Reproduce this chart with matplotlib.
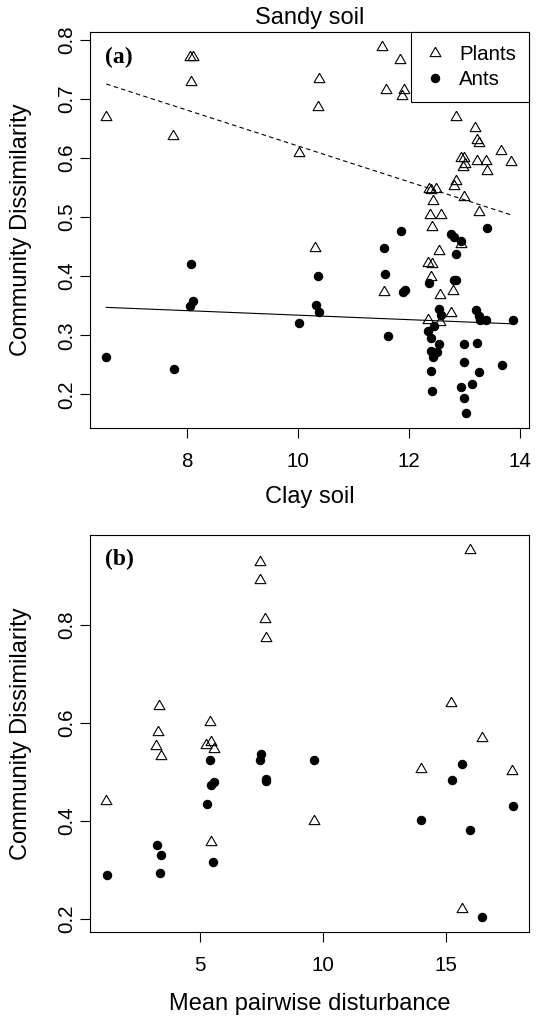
import matplotlib
matplotlib.use("Agg")
import matplotlib.pyplot as plt
import numpy as np

plt.rcParams['font.family'] = ['Liberation Sans', 'DejaVu Sans']

# Panel (a): dissimilarity vs clay soil
a_plants_x = [6.54, 7.75, 8.05, 8.10, 8.06, 10.02,
              11.52, 11.84, 10.38, 11.59, 11.91, 11.88, 10.35, 12.84, 13.19, 13.23,
              13.26, 13.66, 13.84, 12.94, 13.00, 12.98, 13.01, 13.23, 13.38, 13.40,
              12.36, 12.40, 12.49, 12.84, 12.81, 12.99, 12.43, 13.27, 12.37, 12.57,
              12.42, 10.31, 12.54, 12.94, 12.34, 12.42, 12.39, 11.55, 12.55, 12.79,
              12.75, 12.34, 12.55]
a_plants_y = [0.669, 0.637, 0.770, 0.770, 0.729, 0.609,
              0.788, 0.765, 0.733, 0.715, 0.714, 0.704, 0.686, 0.669, 0.650, 0.631,
              0.625, 0.612, 0.593, 0.599, 0.599, 0.585, 0.589, 0.594, 0.595, 0.578,
              0.548, 0.545, 0.548, 0.561, 0.552, 0.533, 0.527, 0.508, 0.503, 0.503,
              0.483, 0.447, 0.442, 0.455, 0.422, 0.421, 0.399, 0.374, 0.368, 0.375,
              0.337, 0.325, 0.322]
a_ants_x = [8.07, 8.10, 8.05, 6.54, 7.76,
            11.85, 12.75, 12.81, 12.94, 13.40,
            11.54, 12.84, 10.36, 11.57, 12.36, 12.81, 12.84, 11.90, 11.93, 10.32,
            10.38, 10.02, 12.54, 12.57, 13.20, 13.26, 13.28, 13.39, 13.87, 12.45,
            12.34, 12.39, 11.62, 12.54, 12.99, 13.23, 12.39, 12.51, 12.43, 13.00,
            13.67, 12.40, 13.27, 13.14, 12.94, 12.42, 12.99, 13.03]
a_ants_y = [0.420, 0.358, 0.350, 0.264, 0.243,
            0.477, 0.471, 0.467, 0.460, 0.482,
            0.448, 0.438, 0.400, 0.403, 0.388, 0.393, 0.394, 0.374, 0.376, 0.352,
            0.340, 0.320, 0.344, 0.334, 0.342, 0.333, 0.326, 0.326, 0.326, 0.315,
            0.308, 0.295, 0.298, 0.285, 0.285, 0.287, 0.273, 0.271, 0.263, 0.254,
            0.249, 0.240, 0.238, 0.218, 0.212, 0.206, 0.194, 0.168]
# fitted lines (intercept, slope)
plants_fit = (0.923, -0.0303)
ants_fit = (0.372, -0.0038)

# Panel (b): dissimilarity vs mean pairwise disturbance
b_plants_x = [7.46, 7.43, 7.64, 7.69, 3.35, 3.29, 3.22, 3.42, 5.41, 5.23, 5.45,
              5.58, 16.01, 15.23, 16.46, 14.01, 17.70, 9.63, 15.65, 1.19, 5.47]
b_plants_y = [0.929, 0.892, 0.812, 0.773, 0.634, 0.582, 0.552, 0.533, 0.603, 0.554,
              0.561, 0.546, 0.954, 0.641, 0.569, 0.506, 0.501, 0.400, 0.219, 0.440, 0.356]
b_ants_x = [5.41, 7.50, 7.46, 9.63, 15.67, 15.24, 17.73, 14.00, 16.01, 16.48,
            5.47, 5.58, 7.68, 7.70, 5.27, 3.24, 3.40, 5.52, 3.36, 1.22]
b_ants_y = [0.524, 0.537, 0.524, 0.525, 0.516, 0.483, 0.430, 0.401, 0.381, 0.203,
            0.474, 0.479, 0.485, 0.481, 0.435, 0.350, 0.331, 0.316, 0.293, 0.290]

# equilateral triangle like R's pch 2
tri = [(0, 1.0), (-0.866, -0.5), (0.866, -0.5), (0, 1.0)]

fig = plt.figure(figsize=(5.38, 10.19), dpi=100)
W, H = 538, 1019
ax1 = fig.add_axes([90 / W, 1 - 428 / H, 439 / W, 396 / H])
ax2 = fig.add_axes([90 / W, 1 - 932 / H, 439 / W, 397 / H])

tick_fs = 14.8
label_fs = 17


def style(ax, xticks, yticks):
    ax.margins(0.04)
    ax.set_xticks(xticks)
    ax.set_yticks(yticks)
    for s in ax.spines.values():
        s.set_linewidth(0.8)
    ax.tick_params(direction='out', length=7, width=0.8, labelsize=tick_fs)
    ax.tick_params(axis='x', pad=10)
    ax.tick_params(axis='y', pad=3)
    for lab in ax.get_yticklabels():
        lab.set_rotation(90)
        lab.set_va('center')


def draw(ax, px, py, ax_x, ay):
    pl, = ax.plot(px, py, linestyle='none', marker=tri, markersize=9,
                  markerfacecolor='none', markeredgecolor='black', markeredgewidth=0.8)
    an, = ax.plot(ax_x, ay, linestyle='none', marker='o', markersize=5.8,
                  color='black')
    return pl, an


pl, an = draw(ax1, a_plants_x, a_plants_y, a_ants_x, a_ants_y)
xs = np.array([min(min(a_plants_x), min(a_ants_x)), max(max(a_plants_x), max(a_ants_x))])
ax1.plot(xs, plants_fit[0] + plants_fit[1] * xs, color='black', linestyle=(0, (4, 3)), linewidth=0.8)
ax1.plot(xs, ants_fit[0] + ants_fit[1] * xs, color='black', linewidth=0.8)
style(ax1, [8, 10, 12, 14], [0.2, 0.3, 0.4, 0.5, 0.6, 0.7, 0.8])
ax1.set_title('Sandy soil', fontsize=label_fs, pad=5.5)
ax1.set_xlabel('Clay soil', fontsize=label_fs, va='center')
ax1.xaxis.set_label_coords(0.5, -0.173)
ax1.set_ylabel('Community Dissimilarity', fontsize=label_fs, va='center')
ax1.yaxis.set_label_coords(-0.157, 0.5)
ax1.text(0.034, 0.962, '(a)', transform=ax1.transAxes, fontsize=17,
         family='Liberation Serif', weight='bold', va='top', ha='left')
leg = ax1.legend([pl, an], ['Plants', 'Ants'], loc='upper right', borderaxespad=0,
                 fancybox=False, framealpha=1, edgecolor='black', fontsize=tick_fs,
                 handletextpad=0.65, borderpad=0.62, labelspacing=0.32, handlelength=1.1)
leg.get_frame().set_linewidth(0.8)

draw(ax2, b_plants_x, b_plants_y, b_ants_x, b_ants_y)
style(ax2, [5, 10, 15], [0.2, 0.4, 0.6, 0.8])
ax2.set_xlabel('Mean pairwise disturbance', fontsize=label_fs, va='center')
ax2.xaxis.set_label_coords(0.5, -0.181)
ax2.set_ylabel('Community Dissimilarity', fontsize=label_fs, va='center')
ax2.yaxis.set_label_coords(-0.157, 0.5)
ax2.text(0.034, 0.966, '(b)', transform=ax2.transAxes, fontsize=17,
         family='Liberation Serif', weight='bold', va='top', ha='left')

fig.savefig('out.png', dpi=100)
